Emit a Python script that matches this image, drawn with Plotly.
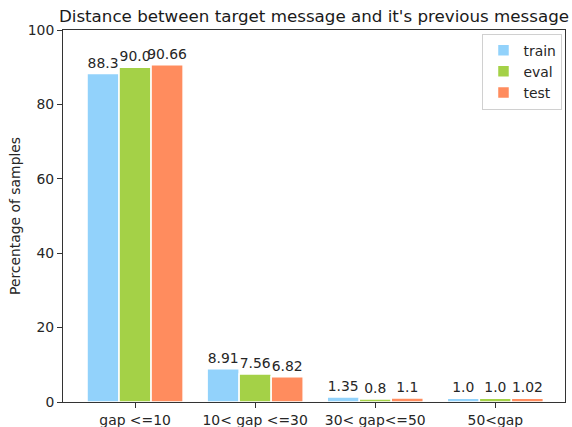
import plotly.graph_objects as go

categories = ["gap <=10", "10< gap <=30", "30< gap<=50", "50<gap"]
train = [88.3, 8.91, 1.35, 1.0]
eval_ = [90.0, 7.56, 0.8, 1.0]
test = [90.66, 6.82, 1.1, 1.02]
series = [("train", train, "#92D2FB"), ("eval", eval_, "#A4D147"), ("test", test, "#FF8C5E")]

FONT = "DejaVu Sans"
FS = 13.9
W, H = 572, 427
L, R, T, B = 63, 7, 30, 25
fig = go.Figure()
for name, vals, color in series:
    fig.add_trace(go.Bar(
        x=categories, y=vals, name=name,
        marker=dict(color=color, line=dict(color="white", width=1.5)),
        text=[str(v) for v in vals], textposition="outside",
        constraintext="none",
        textfont=dict(family=FONT, size=FS, color="#262626"),
        cliponaxis=False,
    ))

fig.update_layout(
    width=W, height=H,
    margin=dict(l=L, r=R, t=T, b=B, autoexpand=False),
    paper_bgcolor="white", plot_bgcolor="white",
    barmode="group", bargap=0.2, bargroupgap=0,
    font=dict(family=FONT, size=FS, color="#262626"),
    title=dict(text="Distance between target message and it's previous message",
               x=0.5, xref="paper", xanchor="center",
               y=1 - 16 / H, yref="container", yanchor="middle",
               font=dict(family=FONT, size=16.7, color="#1a1a1a")),
    legend=dict(x=0.995, y=0.99, xanchor="right", yanchor="top",
                bordercolor="#d0d0d0", borderwidth=1, bgcolor="white",
                font=dict(family=FONT, size=FS)),
    annotations=[dict(text="Percentage of samples", textangle=-90,
                      xref="paper", yref="paper",
                      x=(15 - L) / (W - L - R), y=0.5,
                      xanchor="center", yanchor="middle", showarrow=False,
                      font=dict(family=FONT, size=FS, color="#262626"))],
)
fig.update_xaxes(range=[-0.6, 3.58], showline=True, linecolor="#333", linewidth=1,
                 mirror=True, ticks="outside", ticklen=5, tickcolor="#333",
                 showgrid=False, automargin=False, tickfont=dict(family=FONT, size=FS))
fig.update_yaxes(range=[0, 100], tickvals=[0, 20, 40, 60, 80, 100],
                 showline=True, linecolor="#333", linewidth=1, mirror=True,
                 ticks="outside", ticklen=5, tickcolor="#333", showgrid=False,
                 zeroline=False, automargin=False, tickfont=dict(family=FONT, size=FS))

fig.write_html("out.html", config={"displayModeBar": False},
               post_script="document.body.style.margin='0px';")
